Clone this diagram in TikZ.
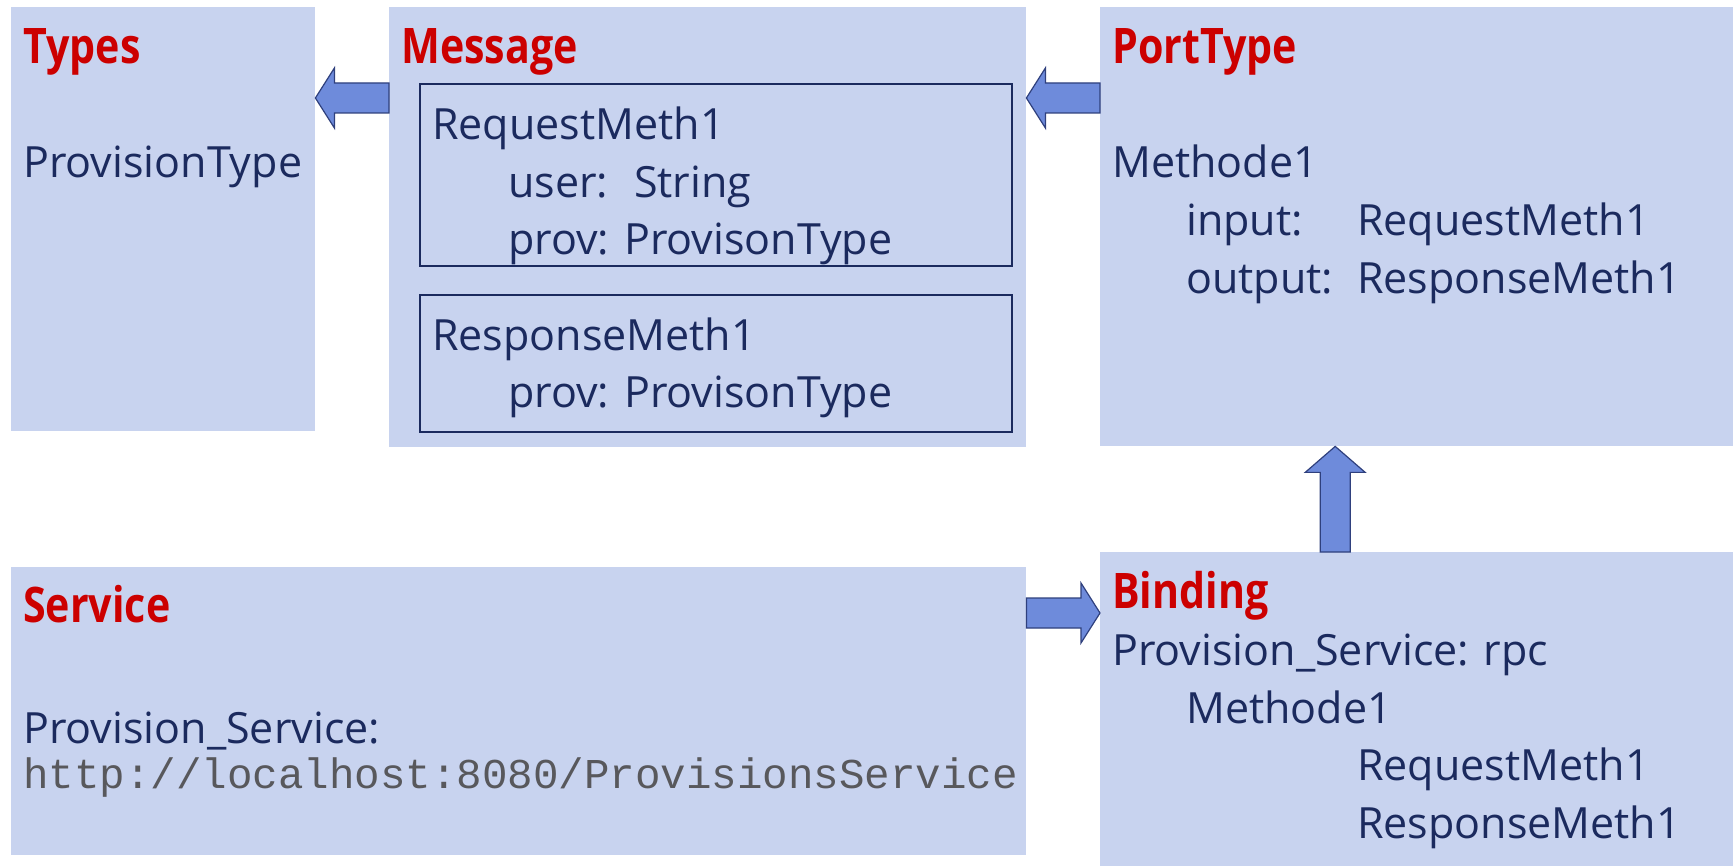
\documentclass[tikz,border=0pt]{standalone}
\usepackage{fontspec}
\setmainfont{Open Sans}
\setmonofont{Liberation Mono}
\newfontfamily\headfont[FakeStretch=0.84]{Open Sans}
\usetikzlibrary{calc}

\definecolor{panelfill}{RGB}{200,211,239}
\definecolor{arrowfill}{RGB}{110,139,219}
\definecolor{arrowline}{RGB}{47,64,125}
\definecolor{textnavy}{RGB}{27,42,94}
\definecolor{titlered}{RGB}{204,0,0}
\definecolor{urlgray}{RGB}{88,88,92}

\tikzset{
  panel/.style={fill=panelfill, anchor=north west, inner sep=0pt},
  inbox/.style={draw=textnavy, line width=2pt, anchor=north west, inner sep=0pt},
  head/.style={anchor=base west, inner sep=0pt, text=titlered, font=\headfont\bfseries\fontsize{49}{58}\selectfont},
  body/.style={anchor=base west, inner sep=0pt, text=textnavy, font=\fontsize{43}{57}\selectfont},
  url/.style={anchor=base west, inner sep=0pt, text=urlgray, font=\ttfamily\fontsize{42.5}{57}\selectfont},
  blockarrow/.style={fill=arrowfill, draw=arrowline, line width=1.2pt, line join=miter}
}

\begin{document}
\begin{tikzpicture}[x=1pt, y=-1pt]
	\useasboundingbox (0,0) rectangle (1733,866);
	% the five parts
	\node[panel, minimum width=304, minimum height=424] (types) at (11,7) {};
	\node[panel, minimum width=637, minimum height=440] (msg) at (389,7) {};
	\node[panel, minimum width=633, minimum height=439] (port) at (1100,7) {};
	\node[panel, minimum width=1015, minimum height=288] (service) at (11,567) {};
	\node[panel, minimum width=633, minimum height=314] (binding) at (1100,552) {};
	\node[inbox, minimum width=592, minimum height=182] (req) at (419,83) {};
	\node[inbox, minimum width=592, minimum height=137] (resp) at (419,294) {};

	% Types
	\node[head] (typesT) at (23,64) {Types};
	\node[body] (typesA) at (23,178) {ProvisionType};

	% Message
	\node[head] (msgT) at (401,64) {Message};
	\node[body] (reqA) at (432,140) {RequestMeth1};
	\node[body] (reqB) at (508,198) {user:\hspace{26pt}String};
	\node[body] (reqC) at (508,255) {prov: ProvisonType};
	\node[body] (respA) at (432,351) {ResponseMeth1};
	\node[body] (respB) at (508,408) {prov: ProvisonType};

	% PortType
	\node[head] (portT) at (1112,64) {PortType};
	\node[body] (portA) at (1112,178) {Methode1};
	\node[body] (portB) at (1186,236) {\makebox[171pt][l]{input:}RequestMeth1};
	\node[body] (portC) at (1186,294) {\makebox[171pt][l]{output:}ResponseMeth1};

	% Service
	\node[head] (serviceT) at (23,622) {Service};
	\node[body] (serviceA) at (23,743) {Provision\_Service:};
	\node[url] (serviceB) at (23,788) {http://localhost:8080/ProvisionsService};

	% Binding
	\node[head] (bindingT) at (1112,608) {Binding};
	\node[body] (bindingA) at (1112,665) {Provision\_Service: rpc};
	\node[body] (bindingB) at (1186,723) {Methode1};
	\node[body] (bindingC) at (1357,780) {RequestMeth1};
	\node[body] (bindingD) at (1357,838) {ResponseMeth1};

	% block arrows
	\coordinate (a1tail) at ([yshift=-91pt]msg.north west);
	\coordinate (a1tip) at ([yshift=-91pt]types.north east);
	\draw[blockarrow] (a1tip) -- ([shift={(19,-30)}]a1tip) -- ([shift={(19,-15)}]a1tip)
		-- ([shift={(0,-15)}]a1tail) -- ([shift={(0,15)}]a1tail)
		-- ([shift={(19,15)}]a1tip) -- ([shift={(19,30)}]a1tip) -- cycle;

	\coordinate (a2tail) at ([yshift=-91pt]port.north west);
	\coordinate (a2tip) at ([yshift=-91pt]msg.north east);
	\draw[blockarrow] (a2tip) -- ([shift={(19,-30)}]a2tip) -- ([shift={(19,-15)}]a2tip)
		-- ([shift={(0,-15)}]a2tail) -- ([shift={(0,15)}]a2tail)
		-- ([shift={(19,15)}]a2tip) -- ([shift={(19,30)}]a2tip) -- cycle;

	\coordinate (a3tail) at ([xshift=-81.5pt]binding.north);
	\coordinate (a3tip) at ([xshift=-81.5pt]port.south);
	\draw[blockarrow] (a3tip) -- ([shift={(-30,26)}]a3tip) -- ([shift={(-15,26)}]a3tip)
		-- ([shift={(-15,0)}]a3tail) -- ([shift={(15,0)}]a3tail)
		-- ([shift={(15,26)}]a3tip) -- ([shift={(30,26)}]a3tip) -- cycle;

	\coordinate (a4tail) at ([yshift=-46pt]service.north east);
	\coordinate (a4tip) at ([yshift=-61pt]binding.north west);
	\draw[blockarrow] (a4tip) -- ([shift={(-19,-30)}]a4tip) -- ([shift={(-19,-15)}]a4tip)
		-- ([shift={(0,-15)}]a4tail) -- ([shift={(0,15)}]a4tail)
		-- ([shift={(-19,15)}]a4tip) -- ([shift={(-19,30)}]a4tip) -- cycle;
\end{tikzpicture}
\end{document}
